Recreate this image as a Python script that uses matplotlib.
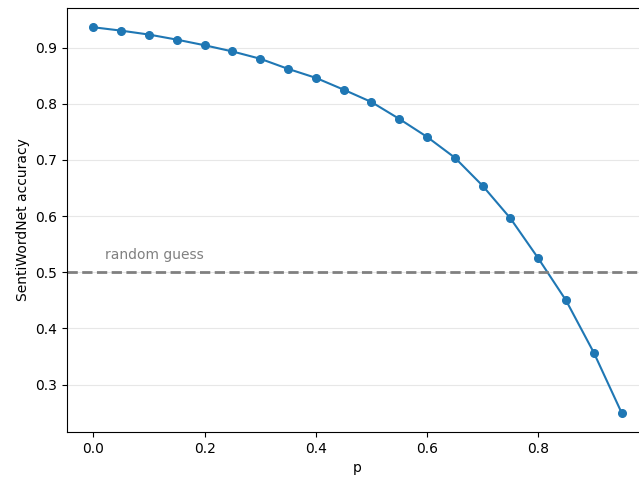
import numpy as np
import matplotlib.pyplot as plt

p = [0.00, 0.05, 0.10, 0.15, 0.20, 0.25, 0.30, 0.35, 0.40, 0.45,
     0.50, 0.55, 0.60, 0.65, 0.70, 0.75, 0.80, 0.85, 0.90, 0.95]
accuracy = [0.936, 0.930, 0.923, 0.914, 0.904, 0.893, 0.880, 0.862, 0.846, 0.825,
            0.803, 0.773, 0.741, 0.704, 0.654, 0.596, 0.525, 0.450, 0.357, 0.250]
random_guess = 0.5

fig = plt.figure(figsize=(6.39, 4.79), dpi=100)
ax = fig.add_axes([67 / 639, 47 / 479, 581 / 639, 424 / 479])

ax.plot(p, accuracy, marker='o', markersize=5.5, color='tab:blue')
ax.axhline(random_guess, linestyle='--', color='gray', linewidth=2)
ax.text(0.02, random_guess + 0.024, 'random guess', color='gray', fontsize=10)

ax.grid(True, axis='y', alpha=0.3)
ax.spines['right'].set_visible(False)
ax.set_xlabel('p')
ax.set_ylabel('SentiWordNet accuracy')

fig.savefig('out.png', dpi=100)
